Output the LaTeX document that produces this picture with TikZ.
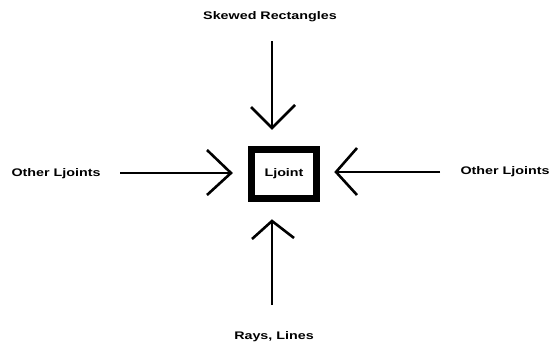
\documentclass[tikz,border=0pt]{standalone}
\usepackage{fontspec}
\usetikzlibrary{calc}
\newfontfamily\widesans[FakeStretch=1.3]{Liberation Sans}
\begin{document}
\begin{tikzpicture}[x=1pt,y=-1pt,
  lbl/.style={font=\widesans\bfseries\fontsize{11}{13}\selectfont, inner sep=1pt},
  shaft/.style={line width=2pt},
  barb/.style={line width=2.6pt, line join=miter},
  jbox/.style={draw, line width=7pt, minimum width=65pt, minimum height=49pt, inner sep=0pt, font=\widesans\bfseries\fontsize{11}{13}\selectfont}]
\useasboundingbox (0,0) rectangle (553,343);
\node[lbl] (top) at (270,17) {Skewed Rectangles};
\node[lbl] (bot) at (274,337) {Rays, Lines};
\node[lbl] (lft) at (56,174) {Other Ljoints};
\node[lbl] (rgt) at (505,172) {Other Ljoints};
\node[jbox] (box) at (284,174) {Ljoint};
% arrow tips and free ends
\coordinate (tT) at (272,128); \coordinate (sT) at (272,41);
\coordinate (tB) at (272,221); \coordinate (sB) at (272,305);
\coordinate (tL) at (231,173); \coordinate (sL) at (120,173);
\coordinate (tR) at (336,172); \coordinate (sR) at (440,172);
\draw[shaft] (sT) -- (tT);
\draw[barb] ($(tT)+(-21,-21)$) -- (tT) -- ($(tT)+(23,-23)$);
\draw[shaft] (sB) -- (tB);
\draw[barb] ($(tB)+(-20,18)$) -- (tB) -- ($(tB)+(22,17)$);
\draw[shaft] (sL) -- (tL);
\draw[barb] ($(tL)+(-24,-23)$) -- (tL) -- ($(tL)+(-24,22)$);
\draw[shaft] (sR) -- (tR);
\draw[barb] ($(tR)+(21,-24)$) -- (tR) -- ($(tR)+(21,23)$);
\end{tikzpicture}
\end{document}
